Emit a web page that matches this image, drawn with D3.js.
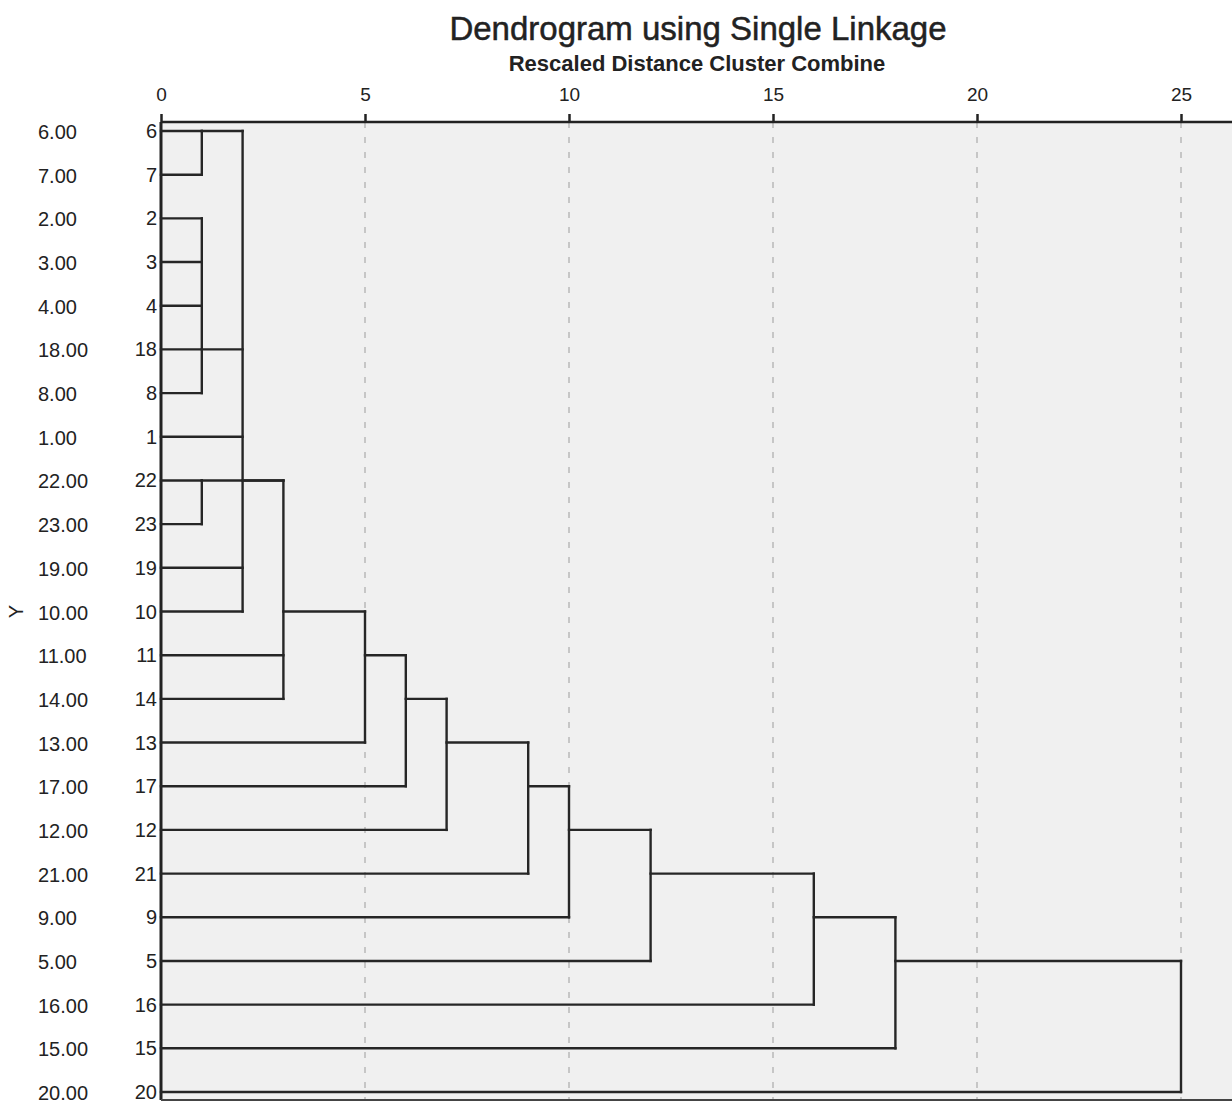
<!DOCTYPE html>
<html>
<head>
<meta charset="utf-8">
<script src="https://cdn.jsdelivr.net/npm/d3@7"></script>
<style>
  body { margin: 0; background: #fff; }
  text { font-family: "Liberation Sans", Arial, sans-serif; fill: #222; }
</style>
</head>
<body>
<div id="chart"></div>
<script>
// case order top to bottom, as listed in the dendrogram
const cases = [6, 7, 2, 3, 4, 18, 8, 1, 22, 23, 19, 10, 11, 14, 13, 17, 12, 21, 9, 5, 16, 15, 20];
const yLabels = ["6.00", "7.00", "2.00", "3.00", "4.00", "18.00", "8.00", "1.00", "22.00", "23.00", "19.00",
  "10.00", "11.00", "14.00", "13.00", "17.00", "12.00", "21.00", "9.00", "5.00", "16.00", "15.00", "20.00"];
const xTicks = [0, 5, 10, 15, 20, 25];

// merges: rescaled distance, members (case numbers or earlier merge ids), case row where the new cluster's line runs
const merges = [
  {id: "A", dist: 1, children: [6, 7], at: 6},
  {id: "B", dist: 1, children: [2, 3, 4, 18, 8], at: 18},
  {id: "C", dist: 1, children: [22, 23], at: 22},
  {id: "D", dist: 2, children: ["A", "B", 1, 19, 10], at: 22},
  {id: "E", dist: 3, children: ["C", "D", 11, 14], at: 10},
  {id: "F", dist: 5, children: ["E", 13], at: 11},
  {id: "G", dist: 6, children: ["F", 17], at: 14},
  {id: "H", dist: 7, children: ["G", 12], at: 13},
  {id: "I", dist: 9, children: ["H", 21], at: 17},
  {id: "J", dist: 10, children: ["I", 9], at: 12},
  {id: "K", dist: 12, children: ["J", 5], at: 21},
  {id: "L", dist: 16, children: ["K", 16], at: 9},
  {id: "M", dist: 18, children: ["L", 15], at: 5},
  {id: "N", dist: 25, children: ["M", 20], at: null}
];

var W = 1232, H = 1104;
var margin = {top: 122, left: 161, bottom: 4};

var svg = d3.select("#chart").append("svg")
  .attr("width", W)
  .attr("height", H);

var x = d3.scaleLinear().domain([0, 25]).range([margin.left, 1181]);
var y = d3.scalePoint().domain(cases).range([131, 1092]);

var plotBottom = H - margin.bottom;

// plot background
svg.append("rect")
  .attr("x", margin.left).attr("y", margin.top)
  .attr("width", W - margin.left).attr("height", plotBottom - margin.top)
  .attr("fill", "#f0f0f0");

// dashed gridlines
svg.selectAll(".grid").data(xTicks.filter(d => d > 0)).enter().append("line")
  .attr("x1", d => x(d)).attr("x2", d => x(d))
  .attr("y1", margin.top).attr("y2", plotBottom)
  .attr("stroke", "#b8b8b8").attr("stroke-width", 1.5)
  .attr("stroke-dasharray", "6,9");

// top axis
var axis = svg.append("g")
  .attr("transform", "translate(0," + margin.top + ")")
  .call(d3.axisTop(x).tickValues(xTicks).tickSize(8).tickPadding(13).tickFormat(d3.format("d")));
axis.select(".domain").attr("stroke", "#222").attr("stroke-width", 2.5).attr("d", "M" + margin.left + ",0H" + W);
axis.selectAll(".tick line").attr("stroke", "#222").attr("stroke-width", 2.5);
axis.selectAll(".tick text").attr("font-size", 19).attr("fill", "#222")
  .style("font-family", "'Liberation Sans', Arial, sans-serif");

// left and bottom frame
svg.append("line").attr("x1", margin.left).attr("x2", margin.left)
  .attr("y1", margin.top).attr("y2", plotBottom)
  .attr("stroke", "#222").attr("stroke-width", 3);
svg.append("line").attr("x1", margin.left).attr("x2", W)
  .attr("y1", plotBottom).attr("y2", plotBottom)
  .attr("stroke", "#444").attr("stroke-width", 2);

// dendrogram segments
var byId = {};
merges.forEach(m => byId[m.id] = m);
function rowOf(c) { return typeof c === "number" ? y(c) : y(byId[c].at); }
function distOf(c) { return typeof c === "number" ? 0 : byId[c].dist; }

var segs = [];
merges.forEach(function(m) {
  var rows = m.children.map(rowOf);
  segs.push({x1: x(m.dist), x2: x(m.dist), y1: d3.min(rows), y2: d3.max(rows)});
  m.children.forEach(function(c) {
    segs.push({x1: x(distOf(c)), x2: x(m.dist), y1: rowOf(c), y2: rowOf(c)});
  });
});

svg.append("g").selectAll("line").data(segs).enter().append("line")
  .attr("x1", d => d.x1).attr("x2", d => d.x2)
  .attr("y1", d => d.y1).attr("y2", d => d.y2)
  .attr("stroke", "#262626").attr("stroke-width", 2.4)
  .attr("stroke-linecap", "square");

// case numbers
svg.append("g").selectAll("text").data(cases).enter().append("text")
  .attr("x", 157).attr("y", d => y(d))
  .attr("dy", "0.35em")
  .attr("text-anchor", "end")
  .attr("font-size", 20)
  .text(d => d);

// Y values
svg.append("g").selectAll("text").data(yLabels).enter().append("text")
  .attr("x", 38).attr("y", (d, i) => y(cases[i]) + 1)
  .attr("dy", "0.35em")
  .attr("font-size", 20)
  .text(d => d);

// axis title Y
svg.append("text")
  .attr("transform", "translate(23," + y(10) + ") rotate(-90)")
  .attr("text-anchor", "middle")
  .attr("font-size", 20)
  .text("Y");

// titles
svg.append("text")
  .attr("x", 698).attr("y", 40)
  .attr("text-anchor", "middle")
  .attr("font-size", 33)
  .attr("stroke", "#222").attr("stroke-width", 0.5)
  .text("Dendrogram using Single Linkage");

svg.append("text")
  .attr("x", 697).attr("y", 71)
  .attr("text-anchor", "middle")
  .attr("font-size", 22)
  .attr("font-weight", "bold")
  .text("Rescaled Distance Cluster Combine");
</script>
</body>
</html>
